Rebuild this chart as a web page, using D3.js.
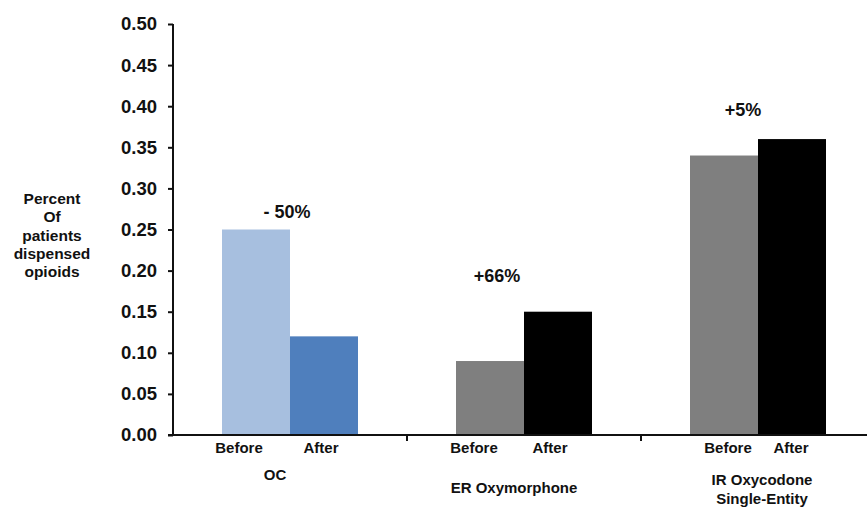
<!DOCTYPE html>
<html><head><meta charset="utf-8">
<script src="https://cdn.jsdelivr.net/npm/d3@7"></script>
<style>body{margin:0;background:#fff}svg{display:block;font-family:"Liberation Sans",Arial,sans-serif;font-weight:bold}</style>
</head><body><svg id="c" width="867" height="507"></svg>
<script>
const categories = ["OC", "ER Oxymorphone", "IR Oxycodone Single-Entity"];
const categoryLines = [["OC"], ["ER Oxymorphone"], ["IR Oxycodone", "Single-Entity"]];
const periods = ["Before", "After"];
const beforeValues = [0.25, 0.09, 0.34];
const afterValues = [0.12, 0.15, 0.36];
const changeLabels = ["- 50%", "+66%", "+5%"];
const changeLabelValues = [0.264, 0.186, 0.388];
const yTicks = [0, 0.05, 0.10, 0.15, 0.20, 0.25, 0.30, 0.35, 0.40, 0.45, 0.50];
const yLabelLines = ["Percent", "Of", "patients", "dispensed", "opioids"];

// styling / layout (not data)
const colors = [["#a7bfdf", "#4f7fbd"], ["#7f7f7f", "#000000"], ["#7f7f7f", "#000000"]];
const periodDx = [[-51, 31], [-50, 26], [-30, 33]];
const changeDx = [-3, -27, -15];
const catDx = [-15, -10, 4];
const catY = [480, 493, 485];

const svg = d3.select("#c");
const x0 = d3.scaleBand().domain(categories).range([173, 875]);
const x1 = d3.scaleBand().domain(periods).range([-68, 68]);
const y = d3.scaleLinear().domain([0, 0.5]).range([435, 24]);
const cx = c => x0(c) + x0.bandwidth() / 2;

// bars
const groups = svg.append("g").selectAll("g").data(categories).join("g")
  .attr("transform", c => `translate(${cx(c)},0)`);
groups.each(function(c, i) {
  const vals = [beforeValues[i], afterValues[i]];
  const g = d3.select(this);
  g.selectAll("rect").data(periods).join("rect")
    .attr("x", p => x1(p)).attr("width", x1.bandwidth())
    .attr("y", (p, j) => y(vals[j])).attr("height", (p, j) => y(0) - y(vals[j]))
    .attr("fill", (p, j) => colors[i][j]);
  g.selectAll("text.per").data(periods).join("text").attr("class", "per")
    .attr("x", (p, j) => periodDx[i][j]).attr("y", 453)
    .attr("text-anchor", "middle").attr("font-size", 15).attr("fill", "#111").text(p => p);
  g.append("text").attr("x", changeDx[i])
    .attr("y", y(changeLabelValues[i])).attr("text-anchor", "middle")
    .attr("font-size", 18).attr("fill", "#111").text(changeLabels[i]);
});

// y axis
const yAxis = svg.append("g").attr("transform", "translate(173,0)")
  .call(d3.axisLeft(y).tickValues(yTicks).tickFormat(d3.format(".2f")).tickSize(5).tickPadding(11));
yAxis.select(".domain").attr("stroke", "#111").attr("stroke-width", 2).attr("d", `M0,${y(0.5)}V${y(0)}`);
yAxis.selectAll(".tick line").attr("stroke", "#111").attr("stroke-width", 2);
yAxis.selectAll(".tick text").attr("font-size", 18.5).attr("font-weight", "bold").attr("fill", "#111")
  .attr("font-family", '"Liberation Sans",Arial,sans-serif');

// x axis
const xAxis = svg.append("g").attr("transform", `translate(0,${y(0)})`)
  .call(d3.axisBottom(x0).tickValues([]).tickSize(0));
xAxis.select(".domain").attr("stroke", "#111").attr("stroke-width", 2).attr("d", "M168,0H867");
xAxis.selectAll("line.sep").data(categories.slice(1)).join("line").attr("class", "sep")
  .attr("x1", c => x0(c)).attr("x2", c => x0(c)).attr("y1", 0).attr("y2", 6)
  .attr("stroke", "#111").attr("stroke-width", 2);

// category labels
categoryLines.forEach((lines, i) => {
  const t = svg.append("text").attr("text-anchor", "middle").attr("font-size", 15).attr("fill", "#111");
  lines.forEach((l, k) => t.append("tspan").attr("x", cx(categories[i]) + catDx[i])
    .attr("y", catY[i] + k * 19).text(l));
});

// y label
const yl = svg.append("text").attr("text-anchor", "middle").attr("font-size", 15.5).attr("fill", "#111");
yLabelLines.forEach((l, k) => yl.append("tspan").attr("x", 52).attr("y", 204 + k * 18.3).text(l));
</script></body></html>
